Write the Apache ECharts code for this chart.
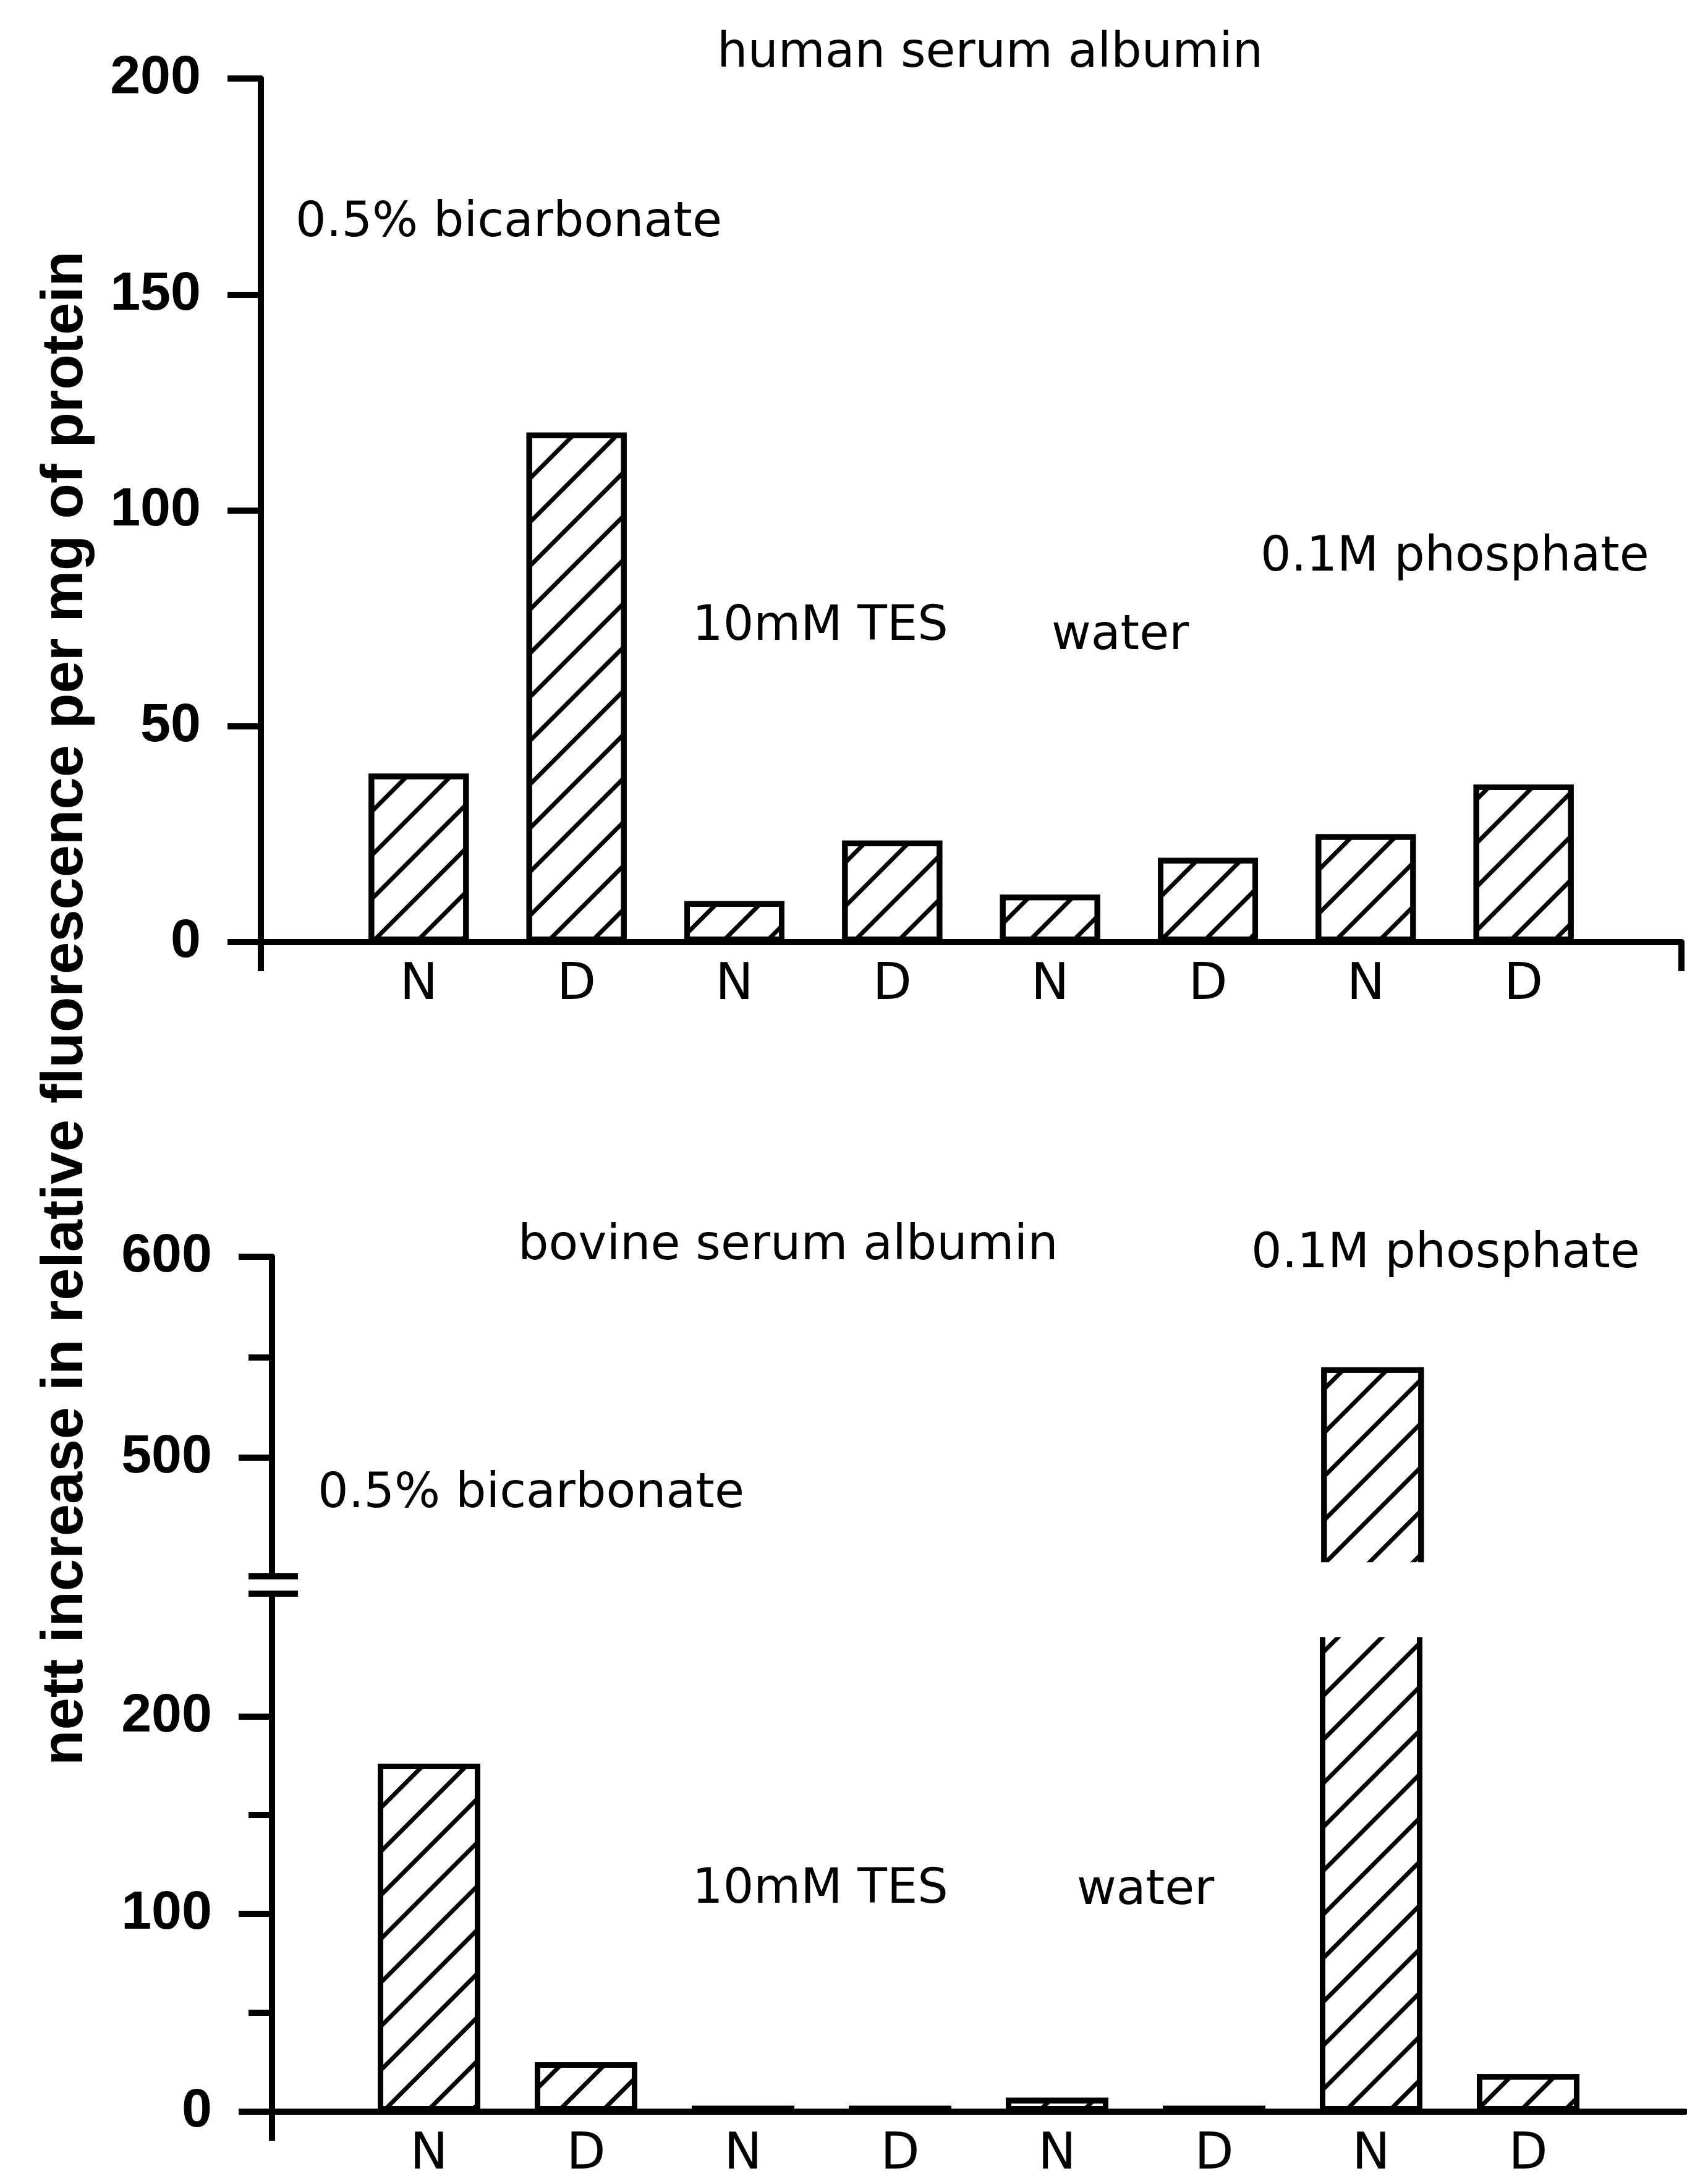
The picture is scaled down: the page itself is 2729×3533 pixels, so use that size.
<!DOCTYPE html>
<html><head><meta charset="utf-8">
<script src="https://cdn.jsdelivr.net/npm/echarts@6/dist/echarts.min.js"></script>
<style>html,body{margin:0;padding:0;background:#fff}#c{width:2729px;height:3533px}</style>
</head><body><div id="c"></div>
<script>
// ---------- data ----------
const categories = ['N', 'D', 'N', 'D', 'N', 'D', 'N', 'D'];
const hsaValues = [39, 118, 9.5, 23.5, 11, 19.5, 25, 36.5];       // human serum albumin
const bsaValues = [176, 25, 3, 3, 7, 3, 545, 19];                  // bovine serum albumin
const hsaTicks = [0, 50, 100, 150, 200];
const bsaLowTicks = [0, 100, 200];
const bsaLowMinorTicks = [50, 150];
const bsaHighTicks = [500, 600];
const bsaHighMinorTicks = [550];
const bsaLowRange = [0, 262];     // lower part of the broken axis
const bsaHighRange = [441, 600];  // upper part of the broken axis
const bsaBarBreak = [240, 448];   // where the tall bar is cut
const yTitle = 'nett increase in relative fluorescence per mg of protein';
const hsaTitle = 'human serum albumin';
const bsaTitle = 'bovine serum albumin';
const bufferNames = ['0.5% bicarbonate', '10mM TES', 'water', '0.1M phosphate'];

// ---------- helpers ----------
const padded = [''].concat(categories, ['']);
const pad = v => ['-'].concat(v, ['-']);
const BAR_W_TOP = 162, BAR_W_BOT = 166;
const LW = 10;
const black = '#000';
const hatch = {symbol: 'rect', symbolSize: 1, dashArrayX: [1, 0], dashArrayY: [7, 43], rotation: -Math.PI / 4, color: black};
const barStyle = {color: '#fff', borderColor: black, borderWidth: 9, decal: hatch};
const catLabel = {interval: 0, margin: 30, fontSize: 82, fontFamily: 'DejaVu Sans', color: black};
const numLabel = {fontSize: 88, fontWeight: 'bold', fontFamily: 'Liberation Sans', color: black, margin: 97};

function xAxis(grid, show, endTick) {
  const last = padded.length - 1;
  return {
    type: 'category', gridIndex: grid, data: padded, boundaryGap: false, show: show,
    axisLine: {show: true, onZero: false, lineStyle: {color: black, width: LW}},
    axisTick: {show: true, length: 47, interval: (i) => i === 0 || (endTick && i === last), lineStyle: {color: black, width: LW}},
    axisLabel: catLabel, splitLine: {show: false}
  };
}
function yMain(grid, range, ticks, interval) {
  const a = {
    type: 'value', gridIndex: grid, position: 'left', min: range[0], max: range[1],
    axisLine: {show: true, lineStyle: {color: black, width: LW}},
    axisTick: {show: true, length: 54, lineStyle: {color: black, width: LW}},
    axisLabel: Object.assign({}, numLabel),
    splitLine: {show: false}
  };
  if (interval) { a.interval = interval; }
  else { a.axisTick.customValues = ticks; a.axisLabel.customValues = ticks; }
  return a;
}
function yAux(grid, range, ticks, inside, len) {
  return {
    type: 'value', gridIndex: grid, position: 'left', min: range[0], max: range[1],
    axisLine: {show: false}, axisLabel: {show: false}, splitLine: {show: false},
    axisTick: {show: true, inside: inside, length: len, customValues: ticks, lineStyle: {color: black, width: LW}}
  };
}

const brokenIdx = bsaValues.map((v, i) => v > bsaLowRange[1] ? i + 1 : -1).filter(i => i >= 0);

function coverLow(params, api) {
  const x = api.coord([api.value(0), 0])[0];
  const yb = api.coord([api.value(0), bsaBarBreak[0]])[1];
  const top = params.coordSys.y;
  return {type: 'rect', shape: {x: x - BAR_W_BOT / 2 - 12, y: top - 9, width: BAR_W_BOT + 24, height: yb - top + 9}, style: {fill: '#fff'}};
}
function coverHigh(params, api) {
  const x = api.coord([api.value(0), 0])[0];
  const yb = api.coord([api.value(0), bsaBarBreak[1]])[1];
  const bottom = params.coordSys.y + params.coordSys.height;
  return {type: 'rect', shape: {x: x - BAR_W_BOT / 2 - 12, y: yb, width: BAR_W_BOT + 24, height: bottom - yb + 9}, style: {fill: '#fff'}};
}

function txt(text, x, y, extra) {
  return Object.assign({type: 'text', x: x, y: y, z: 10,
    style: {text: text, font: '78px "DejaVu Sans"', fill: black, textAlign: 'left', textVerticalAlign: 'middle', align: 'left', verticalAlign: 'middle'}}, extra || {});
}

const chart = echarts.init(document.getElementById('c'), null, {renderer: 'canvas'});
chart.setOption({
  backgroundColor: '#fff',
  animation: false,
  aria: {enabled: true, decal: {show: true}},
  grid: [
    {left: 422, top: 127, width: 2298, height: 1397},
    {left: 440, top: 2578, width: 2295, height: 838},
    {left: 440, top: 2033, width: 2295, height: 517}
  ],
  xAxis: [xAxis(0, true, true), xAxis(1, true, false), xAxis(2, false, false)],
  yAxis: [
    yMain(0, [hsaTicks[0], hsaTicks[hsaTicks.length - 1]], hsaTicks, 50),
    yMain(1, bsaLowRange, bsaLowTicks),
    yAux(1, bsaLowRange, bsaLowMinorTicks.concat([bsaLowRange[1]]), false, 38),
    yAux(1, bsaLowRange, [bsaLowRange[1]], true, 42),
    yMain(2, bsaHighRange, bsaHighTicks),
    yAux(2, bsaHighRange, bsaHighMinorTicks.concat([bsaHighRange[0]]), false, 38),
    yAux(2, bsaHighRange, [bsaHighRange[0]], true, 42)
  ],
  series: [
    {type: 'bar', xAxisIndex: 0, yAxisIndex: 0, data: pad(hsaValues), barWidth: BAR_W_TOP, itemStyle: barStyle, clip: true, z: 2},
    {type: 'bar', xAxisIndex: 1, yAxisIndex: 1, data: pad(bsaValues), barWidth: BAR_W_BOT, itemStyle: barStyle, clip: true, z: 2},
    {type: 'bar', xAxisIndex: 2, yAxisIndex: 4, data: pad(bsaValues.map(v => v > bsaHighRange[0] ? v : '-')), barWidth: BAR_W_BOT, itemStyle: barStyle, clip: true, z: 2},
    {type: 'custom', xAxisIndex: 1, yAxisIndex: 1, data: brokenIdx.map(i => [i]), renderItem: coverLow, z: 5, clip: false},
    {type: 'custom', xAxisIndex: 2, yAxisIndex: 4, data: brokenIdx.map(i => [i]), renderItem: coverHigh, z: 5, clip: false}
  ],
  graphic: [
    {type: 'text', x: 107, y: 1631, rotation: Math.PI / 2, z: 10,
     style: {text: yTitle, font: 'bold 94px "Liberation Sans"', fill: black, textAlign: 'center', textVerticalAlign: 'middle', align: 'center', verticalAlign: 'middle'}},
    txt(hsaTitle, 1160, 88),
    txt(bufferNames[0], 478, 362),
    txt(bufferNames[1], 1120, 1015),
    txt(bufferNames[2], 1701, 1030),
    txt(bufferNames[3], 2039, 903),
    txt(bsaTitle, 838, 2017),
    txt(bufferNames[3], 2024, 2030),
    txt(bufferNames[0], 514, 2418),
    txt(bufferNames[1], 1120, 3058),
    txt(bufferNames[2], 1742, 3060)
  ]
});
</script></body></html>
